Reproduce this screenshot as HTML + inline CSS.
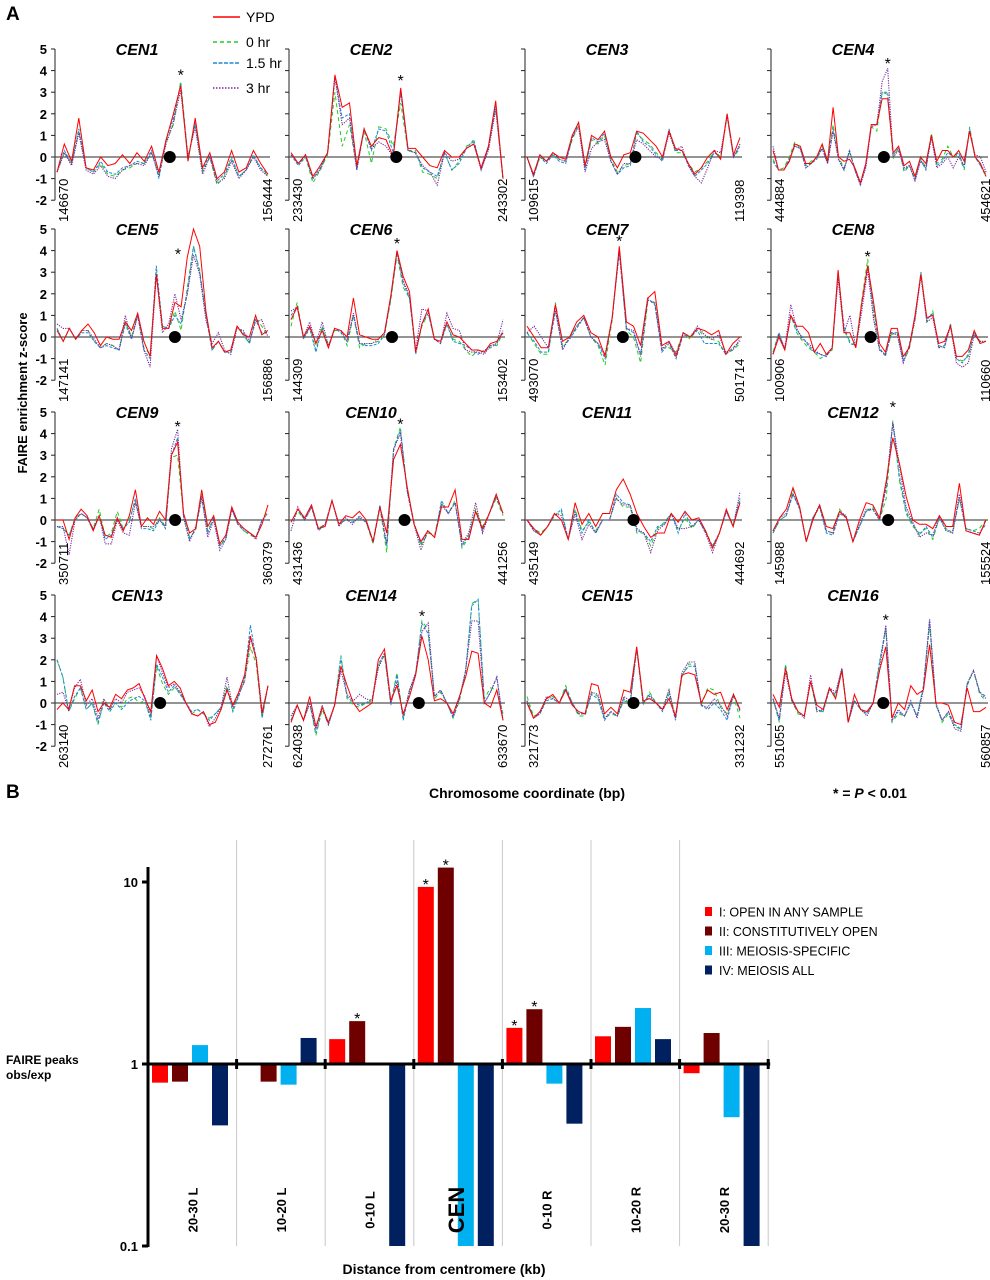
<!DOCTYPE html>
<html><head><meta charset="utf-8">
<style>
html,body{margin:0;padding:0;background:#fff;}
svg{display:block;font-family:"Liberation Sans",Arial,sans-serif;}
</style></head>
<body>
<svg id="fig" width="990" height="1280" viewBox="0 0 990 1280" xmlns="http://www.w3.org/2000/svg">
<text x="6" y="20" font-size="19" font-weight="bold">A</text>
<text x="6" y="798" font-size="19" font-weight="bold">B</text>
<g>
<line x1="213" y1="17" x2="240" y2="17" stroke="#ff0000" stroke-width="1.6"/>
<text x="246" y="22" font-size="14">YPD</text>
<line x1="213" y1="42" x2="240" y2="42" stroke="#22cc22" stroke-width="1.4" stroke-dasharray="4,3"/>
<text x="246" y="47" font-size="14">0 hr</text>
<line x1="213" y1="63" x2="240" y2="63" stroke="#1e88d8" stroke-width="1.4" stroke-dasharray="4,1.5"/>
<text x="246" y="68" font-size="14">1.5 hr</text>
<line x1="213" y1="88" x2="240" y2="88" stroke="#7a2a9a" stroke-width="1.6" stroke-dasharray="1.5,1.5"/>
<text x="246" y="93" font-size="14">3 hr</text>
</g>
<text transform="translate(27,393) rotate(-90)" text-anchor="middle" font-size="13" font-weight="bold">FAIRE enrichment z-score</text>
<text x="527" y="798" text-anchor="middle" font-size="14" font-weight="bold">Chromosome coordinate (bp)</text>
<text x="870" y="798" text-anchor="middle" font-size="14" font-weight="bold">* = <tspan font-style="italic">P</tspan> &lt; 0.01</text>
<g id="panelA"></g>
<g id="panelB"></g>
<text x="6" y="1064" font-size="12" font-weight="bold">FAIRE peaks</text>
<text x="6" y="1079" font-size="12" font-weight="bold">obs/exp</text>
<text x="444" y="1274" text-anchor="middle" font-size="14" font-weight="bold">Distance from centromere (kb)</text>
</svg>
<script>
const NS="http://www.w3.org/2000/svg";
// ---------- Panel A data ----------
const cenNames=["CEN1","CEN2","CEN3","CEN4","CEN5","CEN6","CEN7","CEN8","CEN9","CEN10","CEN11","CEN12","CEN13","CEN14","CEN15","CEN16"];
const coordStart=["146670","233430","109615","444884","147141","144309","493070","100906","350711","431436","435149","145988","263140","624038","321773","551055"];
const coordEnd=["156444","243302","119398","454621","156886","153402","501714","110660","360379","441256","444692","155524","272761","633670","331232","560857"];
const yTicks=[5,4,3,2,1,0,-1,-2];
const cenDotIdx=[15.5,14.4,16.8,20.3,19,16.2,13.5,16.5,19.6,16.6,15.5,17.3,17.6,20.5,16.5,17.6];
const starIdx=[17,15,null,21,19.5,17,13,16,20,16,null,18,null,21,null,18];
const starVal=[3.95,3.7,null,4.5,4.0,4.5,4.6,3.9,4.5,4.6,null,5.4,null,4.2,null,4.0];
const ypd=[
[-0.7,0.6,-0.2,1.8,-0.5,-0.6,0,-0.4,-0.3,0.1,-0.3,0.2,-0.2,0.5,-0.7,0.8,2.0,3.3,-0.2,1.8,-0.5,0.2,-1.0,-0.7,0.3,-0.7,-0.5,0.3,-0.3,-0.8],
[0.2,-0.3,0.1,-0.9,-0.4,0.2,3.8,2.3,2.5,-0.4,1.3,0.5,0.9,0.8,0,3.2,0.4,0.4,0,-0.4,-0.5,0.3,0,0,0.4,0.6,-0.5,0.5,2.6,-1.0],
[0,-0.8,0.1,-0.2,0.2,0,-0.1,1.0,1.6,-0.4,1.0,0.8,1.2,0,-0.5,0.1,0.2,1.2,1.1,0.8,0.5,0,1.2,0.4,0.3,-0.3,-0.8,-0.5,0,0.3,-0.1,2.0,0.1,0.9],
[0.3,-0.6,-0.6,-0.2,0.6,0.5,-0.3,-0.3,0,0.6,-0.2,2.3,0,-0.2,-0.1,-0.5,-1.2,-0.3,1.5,1.5,2.7,2.7,0.2,0.5,-0.4,-0.2,-0.9,0,-0.3,1.0,-0.2,0.3,0.3,0,0.3,-0.2,1.2,0,-0.3,-0.9],
[0.3,-0.2,0.4,-0.1,0.3,0.6,0.2,-0.4,0,-0.1,-0.1,0.7,0.3,1.1,-0.2,-0.9,2.9,0.4,0.4,1.6,1.4,3.7,5.0,4.2,1.2,-0.5,-0.2,-0.7,-0.6,0.5,0.1,0,1.0,0.1,0.3],
[0.8,1.4,0,0.5,-0.3,0.3,-0.5,0.4,0.3,0,1.8,0.1,0,-0.1,-0.1,0.2,1.9,4.0,2.8,2.1,-0.7,0.6,1.3,-0.1,-0.2,0.7,0.1,0,-0.3,-0.6,-0.6,-0.7,-0.3,-0.2,0.2],
[0.5,0,-0.5,-0.5,1.5,-0.2,0,0.7,1.0,0.2,0,-0.9,0.9,4.2,0.7,0.5,-0.4,1.8,2.1,-0.4,-0.2,-0.9,0.2,0,0.4,0.3,0.1,0.3,-0.8,-0.3,0],
[-0.8,0,-0.6,1.0,0.5,0.5,0.2,-0.7,-0.3,-0.8,-0.5,3.1,0.2,0.2,-0.5,1.6,3.3,1.6,-0.3,-0.7,0.4,0.4,-0.9,-0.5,1.0,2.9,0.9,1.0,-0.3,-0.2,0.5,-0.9,-0.9,-0.6,0.3,-0.3,-0.2],
[0,0,-0.9,0.1,0.5,0.2,-0.5,0.2,-0.7,-0.8,0.1,-0.5,0.2,1.4,-0.3,0.1,-0.2,0.4,0,3.0,3.6,0.3,-0.6,-0.4,1.4,-0.3,0.2,-1.1,-0.7,0.6,-0.1,-0.4,-0.6,-0.8,-0.2,0.7],
[-0.1,0.5,0.1,0.7,-0.4,-0.3,0.9,-0.2,0.2,0.1,0.4,0,-1.0,0.6,-0.6,2.8,3.5,1.5,-0.2,-1.0,-0.5,-0.8,0.6,0.6,1.4,-0.9,-0.9,0.4,-0.4,0.3,1.2,0.3],
[0,-0.4,-0.7,-0.3,0.3,0,-0.9,0.8,-0.2,0.3,-0.3,0.3,0.3,1.4,1.9,1.2,0.3,-0.3,-0.8,-0.6,-0.6,0.3,-0.1,0.4,0,0.1,-0.5,-1.3,-0.6,0.5,-0.3,0.8],
[-0.5,0.1,0.5,1.5,0.6,-1.0,0,0.7,-0.3,-0.4,0.4,0.1,-1.0,0,0.8,0.7,0.1,1.8,3.8,2.6,1.1,0,-0.2,-0.2,-0.4,0.2,-0.3,-0.3,1.7,-0.5,-0.6,-0.7,0],
[-0.3,0,-0.3,0.8,0.8,0.1,0.6,-0.4,0,-0.2,0.4,0.2,0.6,0.7,0.9,0.2,-0.4,2.2,1.6,0.8,1.0,0.7,0,-0.5,-0.6,-0.4,-1.0,-0.9,-0.3,0.6,-0.1,0.5,1.3,3.1,2.0,-0.5,0.8],
[-0.9,-0.1,-0.8,0.3,-1.1,-0.2,-0.9,-0.1,1.7,0.8,0,-0.4,-0.2,0,2.0,2.5,0.1,0.8,-0.5,0.3,1.3,3.1,2.0,0.1,0.2,0,-0.5,0.3,1.2,2.4,2.3,0,-0.2,0.6,-0.8],
[0,-0.7,-0.4,0.2,0.4,0,0.6,-0.1,-0.4,-0.5,0.9,0.8,-0.5,-0.2,-0.5,0.6,0.5,2.6,0.1,0.2,0,-0.3,0.2,-0.6,1.3,1.4,1.3,0,0.6,0.4,0.5,-0.3,0.4,-0.3],
[0.4,-0.2,1.6,0.2,-0.4,-0.6,1.0,-0.1,-0.3,0.7,0.2,1.5,-0.9,0.4,-0.3,-0.4,0,1.5,2.6,-0.7,0,-0.3,0.8,0.4,0.6,2.7,0,0,-0.1,-0.9,-1.0,0.7,-0.4,-0.4,-0.2]];
const hr0=[
[-0.7,0.2,-0.3,1.2,-0.5,-0.7,-0.3,-0.8,-0.9,-0.6,-0.5,-0.3,-0.3,0.2,-0.9,0.7,1.5,3.5,0,1.5,-0.7,0,-1.3,-0.9,-0.1,-0.9,-0.6,0,-0.5,-0.9],
[0.1,-0.3,0,-1.2,-0.6,0.1,3.0,0.5,1.5,-0.5,1.2,-0.3,1.4,1.3,0.5,2.5,0.3,0.3,-0.7,-0.8,-1.0,0.2,-0.6,-0.2,0.5,0.7,-0.5,0.4,2.3,-1.0],
[0,-0.9,0,-0.2,0.1,-0.1,-0.2,0.8,1.5,-0.5,0.8,0.6,1.0,-0.1,-0.7,-0.4,-0.3,1.1,0.8,0.6,0.2,-0.1,1.2,0.2,0.2,-0.3,-0.7,-0.5,-0.2,0.3,0,1.9,0,0.4],
[-0.1,-0.6,-0.5,0,0.7,0.4,-0.4,-0.2,0,0.5,-0.2,1.5,0,-0.5,0.2,-0.5,-1.2,-0.3,1.4,1.2,3.0,2.9,-0.1,0.5,-0.7,-0.4,-1.0,0,-0.5,1.1,-0.3,-0.1,0.5,0,0.1,-0.6,1.4,0,-0.4,-0.8],
[0.4,-0.2,0.4,-0.1,0.3,0.3,-0.2,-0.5,-0.3,-0.4,-0.6,0.7,0,1.1,-0.5,-0.8,3.0,0.5,0.4,1.2,0.3,2.3,4.2,3.1,1.0,-0.6,-0.2,-0.7,-0.7,0.5,0.1,-0.3,0.9,0.5,0],
[0.5,1.6,-0.1,0.5,-0.6,0.5,-0.4,0.3,0.3,-0.4,1.0,-0.5,-0.3,-0.3,-0.2,0.1,1.7,3.8,2.3,1.8,-0.7,0.5,1.1,-0.1,-0.2,0.6,-0.1,-0.2,-0.6,-0.9,-0.6,-0.7,-0.4,-0.4,0.2],
[0.2,-0.3,-0.8,-0.8,1.6,-0.4,-0.1,0.5,0.9,0,-0.4,-1.3,0.8,4.1,0.3,0,-1.2,1.6,1.6,-0.5,-0.5,-0.7,0.2,-0.1,0.4,0,-0.1,-0.2,-0.8,-0.6,-0.3],
[-0.7,0.2,-0.6,1.0,0.2,-0.2,-0.5,-0.7,-1.0,-0.8,-0.6,3.0,0.3,-0.2,-0.4,1.7,3.6,1.0,-0.6,-0.8,0.1,0.2,-1.1,-0.6,0.8,3.0,0.7,1.2,-0.5,-0.4,0.6,-1.0,-1.1,-0.9,0.2,-0.2,-0.2],
[-0.3,-0.4,-0.7,0.1,0.3,0.1,-0.4,0.5,-0.8,-0.6,0.4,-0.4,0,0.9,-0.3,-0.3,-0.4,0.1,-0.3,2.9,3.0,0.2,-0.8,-0.5,1.2,-0.5,0.1,-1.2,-0.9,0.5,-0.2,-0.5,-0.7,-0.8,0,0.4],
[-0.1,0.4,0,0.6,-0.4,-0.2,0.9,-0.2,0,-0.1,0.1,-0.1,-1.1,0.6,-1.5,3.3,4.3,1.3,-0.1,-1.2,-0.6,-0.7,0.8,0.3,0.9,-1.3,-0.8,0.5,-0.3,0.3,1.0,0.2],
[0,-0.4,-0.6,-0.3,0.2,0.4,-0.9,0.5,-0.5,-0.1,-0.5,0,0,1.0,0.6,0.6,-0.6,-0.6,-1.2,-0.4,-0.1,0.3,-0.5,0.1,-0.4,0,-0.5,-1.2,-0.6,0.4,-0.2,0.9],
[-0.6,0,0.2,1.4,0.6,-1.0,0.1,0.6,-0.5,-0.6,0.5,0.1,-1.0,-0.3,0.4,0.6,0,1.0,4.6,1.8,0.3,-0.3,-0.6,-0.4,-0.9,0.1,-0.4,-0.6,1.0,-0.4,-0.5,-0.4,0],
[2.0,1.2,-0.4,0.2,0.7,-0.3,0,-1.0,0.1,-0.3,0,-0.2,0.2,0.3,0,0.1,-0.7,1.7,0.9,0.4,0.7,0.5,0,-0.5,-0.3,-0.5,-0.7,-0.5,-0.2,0.8,-0.3,0.4,1.0,2.6,1.8,-0.7,0.8],
[-0.8,-0.1,-0.8,0,-1.5,-0.3,-1.0,-0.1,2.2,0.2,-0.1,-0.2,0,0.1,1.7,2.2,0,1.4,-0.7,0.6,1.3,3.8,3.4,0.2,0.5,0,-0.7,0.1,1.4,4.6,4.8,0.2,0.7,0.6,-0.5],
[0.3,-0.6,-0.5,0.2,0.3,0,0.8,0,-0.6,-0.6,0.5,0.3,-0.7,-0.5,-0.6,0.1,0,2.5,-0.1,0.5,0,-0.3,0.6,-0.7,1.2,1.8,1.8,-0.1,0.7,0.6,-0.2,-0.5,0.3,-0.7],
[0.2,-0.9,1.8,0.1,-0.5,-0.6,1.0,-0.4,-0.4,0.7,0.3,1.6,-0.8,0.1,-0.3,-0.5,0,1.8,3.4,-0.9,-0.5,-0.6,0,-0.6,0.7,3.6,0,-0.9,-0.5,-1.1,-1.2,0.8,1.5,0.4,0.1]];
const hr15=[
[-0.7,0.3,-0.3,1.3,-0.5,-0.7,-0.2,-0.7,-0.8,-0.5,-0.4,-0.2,-0.3,0.3,-1.0,0.8,1.8,3.4,-0.1,1.6,-0.6,0.1,-1.1,-0.8,0,-0.9,-0.6,0.1,-0.5,-0.8],
[0.1,-0.4,0,-1.0,-0.5,0.2,3.7,1.8,2.0,-0.6,1.3,0.3,1.3,1.2,0.2,3.0,0.3,0.2,-0.5,-0.7,-0.9,0.2,-0.6,-0.3,0.4,0.8,-0.6,0.4,2.4,-1.0],
[0,-0.9,0,-0.3,0.1,-0.2,-0.3,0.9,1.6,-0.6,0.9,0.7,1.1,-0.2,-0.8,-0.5,-0.4,1.2,0.7,0.5,0.1,-0.2,1.3,0.3,0.3,-0.4,-0.9,-0.6,-0.3,0.2,0,2.0,0,0.5],
[-0.2,-0.6,-0.6,-0.1,0.5,0.4,-0.5,-0.3,-0.1,0.4,-0.3,1.3,-0.1,-0.6,0.3,-0.6,-1.3,-0.4,1.5,1.5,3.0,3.0,0.1,0.4,-0.6,-0.4,-1.1,-0.1,-0.6,1.0,-0.4,-0.2,0.2,0,0.2,-0.5,1.3,0,-0.4,-0.9],
[0.4,-0.2,0.4,-0.1,0.2,0.2,-0.2,-0.5,-0.4,-0.5,-0.6,0.6,-0.1,1.0,-0.6,-1.0,3.3,0.5,0.4,1.0,0.6,2.0,4.2,3.0,1.0,-0.6,-0.2,-0.7,-0.7,0.5,0.2,-0.3,0.8,0.2,0.2],
[1.0,1.4,-0.1,0.4,-0.7,0.4,-0.5,0.4,0.2,-0.2,1.0,-0.3,-0.4,-0.4,-0.3,0.1,1.8,3.9,2.5,1.8,-0.8,0.6,1.1,-0.1,-0.3,0.6,-0.2,-0.3,-0.4,-0.6,-0.8,-0.6,-0.5,-0.3,0.3],
[0.2,-0.2,-0.7,-0.7,1.2,-0.5,-0.1,0.4,0.9,0,-0.3,-1.0,0.9,3.9,0.4,0.2,-0.8,1.8,1.5,-0.7,-0.3,-1.0,0.1,0,0.3,-0.3,-0.3,-0.3,-0.8,-0.5,-0.2],
[-0.8,0.2,-0.6,1.0,0.3,0,-0.4,-0.7,-0.8,-0.9,-0.5,3.0,0.5,-0.3,-0.4,1.5,3.3,1.3,-0.5,-0.9,0.2,0.2,-1.1,-0.4,0.9,3.0,0.8,1.1,-0.4,-0.5,0.6,-1.0,-1.2,-0.8,0.2,-0.3,-0.2],
[-0.3,-0.4,-0.7,0,0.3,0.1,-0.5,0.2,-0.9,-0.7,0.1,-0.4,-0.1,1.0,-0.4,-0.4,-0.5,0,-0.4,3.0,3.8,0.2,-0.9,-0.4,1.0,-0.6,0.1,-1.2,-0.8,0.5,-0.2,-0.5,-0.6,-0.8,0,0],
[-0.1,0.5,0,0.6,-0.5,-0.2,0.9,-0.2,0,-0.1,0.1,-0.1,-1.0,0.7,-1.2,3.2,4.2,1.3,-0.2,-1.1,-0.5,-0.8,0.9,0.3,0.8,-1.2,-0.7,0.4,-0.5,0.3,1.1,0.3],
[0,-0.5,-0.7,-0.3,0.2,0.5,-0.9,0.4,-0.6,0,-0.6,0,0,1.2,0.8,0.7,-0.5,-0.6,-1.0,-0.3,-0.2,0.3,-0.6,0.3,-0.3,0,-0.6,-1.2,-0.6,0.4,-0.3,1.0],
[-0.6,0,0.2,1.2,0.5,-1.0,0.1,0.6,-0.6,-0.7,0.3,0.1,-1.0,-0.3,0.4,0.5,0,1.5,4.5,2.0,0.4,-0.2,-0.7,-0.3,-0.8,0.1,-0.5,-0.5,1.0,-0.4,-0.5,-0.6,-0.2],
[2.0,1.2,-0.4,0.3,0.7,-0.3,0,-0.9,0,-0.4,0,-0.3,0,0.2,0.3,0.1,-0.8,1.8,1.2,0.5,0.8,0.4,0,-0.4,-0.3,-0.5,-0.8,-0.5,-0.2,0.7,-0.4,0.3,1.2,3.6,2.0,-0.7,0.8],
[-0.8,-0.1,-0.8,0,-1.4,-0.2,-1.0,-0.1,2.1,0.3,0,-0.1,0,0.2,1.8,2.3,-0.1,1.3,-0.8,0.5,1.4,3.7,3.2,0.3,0.6,0,-0.7,0.2,1.5,4.5,4.8,0,0.5,1.2,-0.8],
[0.1,-0.7,-0.5,0.1,0.2,0,0.7,0,-0.5,-0.5,0.4,0.2,-0.8,-0.4,-0.6,0.2,0,2.6,0,0.4,0,-0.4,0.4,-0.8,1.3,1.7,1.7,-0.1,-0.3,0,-0.3,-0.8,0.4,-0.4],
[0.2,-0.8,1.7,0.1,-0.4,-0.6,1.0,-0.3,-0.4,0.6,0.4,1.6,-0.9,0.1,-0.3,-0.5,0,1.9,3.5,-0.8,-0.4,-0.6,0,-0.6,0.8,3.8,-0.1,-0.8,-0.4,-1.0,-1.2,0.9,1.5,0.5,0.3]];
const hr3=[
[-0.7,0.2,-0.4,1.1,-0.6,-0.8,-0.4,-0.9,-1.0,-0.6,-0.4,-0.3,-0.4,0.2,-0.8,0.6,1.6,3.1,0,1.4,-0.8,0,-1.2,-1.0,-0.2,-1.0,-0.6,0,-0.6,-0.9],
[0.1,-0.3,0.1,-1.0,-0.6,0.2,3.7,1.5,1.8,-0.6,1.3,0.4,0.7,0.5,0,3.1,0.3,0.2,-0.4,-0.7,-1.3,0.2,-0.2,-0.1,0.4,0.6,-0.6,0.3,2.2,-1.0],
[0,-0.9,0.1,-0.2,0.2,-0.1,-0.2,0.9,1.4,-0.7,0.4,0.7,0.8,-0.2,-0.8,-0.3,-0.3,0.8,0.6,0.3,0,-0.1,1.1,0.3,0.5,-0.4,-0.9,-1.2,-0.5,0.3,0.2,1.9,0,0.6],
[0.5,-0.6,-0.6,-0.1,0.5,0.4,-0.5,-0.3,0,0.4,-0.3,1.2,-0.1,-0.6,0.3,-0.6,-1.3,-0.5,1.4,1.5,3.5,4.1,0,0.3,-0.5,-0.4,-1.1,-0.2,-0.5,0.9,-0.5,-0.3,0,-0.5,0,-0.4,1.2,0.1,0,-0.7],
[0.6,0.4,0.4,-0.1,0.3,0.3,-0.1,-0.5,-0.3,-0.4,-0.6,1.0,-0.1,1.0,-0.6,-1.4,2.9,0.2,0.6,2.0,0.8,2.0,3.8,2.9,0.8,-0.3,0.2,-0.6,-0.8,0.4,0.3,-0.2,0.7,0.8,0],
[1.2,1.4,0,0.7,-0.3,0.7,-0.4,0.4,0.3,-0.2,1.1,-0.3,-0.3,-0.3,-0.1,0.2,1.9,4.0,2.6,1.9,-0.6,1.3,1.2,-0.1,-0.3,1.1,0.4,0.3,-0.6,-0.7,-0.7,-0.8,-0.4,-0.3,0.8],
[0.2,0.5,0,-0.5,1.3,-0.6,0,0.5,0.9,0,-0.3,-0.8,0.9,4.0,0.4,0.3,-0.9,1.7,1.6,-0.6,-0.2,-0.8,0.2,0,0.5,0.1,-0.1,0.1,-0.7,-0.6,-0.1],
[-0.8,0.1,-0.5,1.5,0.4,-0.1,-0.3,-0.6,-0.8,-0.9,-0.5,2.7,0.2,1.0,-0.5,1.2,3.1,0.8,-0.6,-0.8,0.2,0.1,-1.2,-0.5,0.8,2.8,0.7,0.9,-0.5,-0.4,0.5,-1.2,-1.4,-1.2,0.1,-0.2,-0.2],
[-0.3,-0.3,-1.6,0,0.3,0.1,-0.4,0.2,-1.1,-1.1,0,-0.6,-0.7,0.8,-0.3,-0.3,-0.3,0,-0.3,3.3,4.2,0.1,-1.0,-0.3,1.1,-0.8,0,-1.4,-0.9,0.5,-0.2,-0.4,-0.6,-0.9,0,0.3],
[-0.5,0.6,0,0.6,-0.4,-0.2,0.9,-0.3,0.1,-0.2,0.2,-0.1,-1.0,0.6,-1.1,3.3,4.0,1.3,-0.2,-1.4,-0.5,-0.8,0.7,0.3,0.8,-1.1,-0.6,0.8,-0.6,0.3,1.1,0.3],
[0,-0.5,-0.7,-0.3,0.3,0.2,-0.9,0.3,-0.9,-0.2,-0.6,0,0,1.0,0.7,0.7,-0.4,-0.6,-1.5,-0.5,-0.2,0.3,-0.4,-0.4,-0.3,0,-0.6,-1.5,-0.6,0.4,-0.3,1.3],
[-0.5,0.1,0.3,1.2,0.6,-1.0,0.1,0.7,-0.5,-0.6,0.4,0.2,-1.0,-0.2,0.5,0.5,0,1.6,4.5,2.5,0.6,-0.1,-0.8,-0.6,-0.7,0.2,-0.5,-0.6,1.2,-0.5,-0.6,-0.7,0],
[0.4,0.5,-0.3,0.7,1.1,-0.1,0.2,-0.7,0.2,-0.3,0.2,0,0.5,0.6,0.7,0.3,-0.6,2.2,1.4,0.7,0.9,0.5,0,-0.5,-0.6,-0.4,-1.1,-0.7,-0.2,1.2,-0.2,0.4,1.0,3.0,2.1,-0.4,0.8],
[-0.6,-0.1,-0.8,0,-1.2,-0.1,-1.0,-0.1,1.5,0.4,0.1,0.4,0.2,0.1,1.6,2.3,0,1.0,-0.6,0.6,1.4,3.3,3.7,0.3,0.6,0,-0.6,0.2,1.5,3.8,3.8,0,0.5,1.2,-0.8],
[0.1,-0.7,-0.5,0.3,0.2,0,0.6,0,-0.5,-0.5,0.5,0.4,-0.7,-0.4,-0.6,0.3,0.1,2.5,0,0.3,0,-0.3,0.6,-0.7,1.4,1.9,1.9,-0.1,-0.2,0.2,-0.1,-0.6,0.4,-0.3],
[0.2,-0.7,1.4,0.1,-0.4,-0.7,1.3,-0.4,-0.3,0.7,0.5,1.6,-0.9,0.1,-0.3,-0.6,0,1.5,3.6,-0.8,-0.3,-0.6,0.1,-0.7,0.6,3.9,0,-0.8,-0.4,-1.2,-1.3,0.9,1.5,0.5,0.2]];

// ---------- Panel B data ----------
const bCategories=["20-30 L","10-20  L","0-10 L","CEN","0-10 R","10-20 R","20-30 R"];
const bSeriesNames=["I: OPEN IN ANY SAMPLE","II: CONSTITUTIVELY OPEN","III: MEIOSIS-SPECIFIC","IV: MEIOSIS ALL"];
const bOpenAny=[0.79,1.0,1.37,9.4,1.58,1.42,0.89];
const bConstit=[0.8,0.8,1.72,12.0,2.0,1.6,1.48];
const bMeioSpec=[1.27,0.77,1.0,0.1,0.78,2.03,0.51];
const bMeioAll=[0.46,1.39,0.1,0.1,0.47,1.37,0.1];
const bSig=[[false,false,false,true,true,false,false],[false,false,true,true,true,false,false],[false,false,false,false,false,false,false],[false,false,false,false,false,false,false]];
const bTicks=[10,1,0.1];
const bTickLabels=["10","1","0.1"];

function el(tag,attrs,parent){const e=document.createElementNS(NS,tag);for(const k in attrs)e.setAttribute(k,attrs[k]);(parent||document.getElementById('fig')).appendChild(e);return e;}

// ---------- draw A ----------
const gA=document.getElementById('panelA');
const colX=[55,289,525,771], colW=[215,216,217,217];
const rowZero=[157,337,520,703], unit=21.6;
const seriesStyles=[
 {data:hr0,name:"0hr",stroke:"#22cc22",dash:"4,3",w:1},
 {data:hr15,name:"1-5hr",stroke:"#1e88d8",dash:"3,1.5",w:1},
 {data:hr3,name:"3hr",stroke:"#7a2a9a",dash:"1.2,1.2",w:1.1},
 {data:ypd,name:"ypd",stroke:"#ff0000",dash:"",w:1}];
for(let p=0;p<16;p++){
  const c=p%4,r=Math.floor(p/4);
  const x0=colX[c], w=colW[c], z=rowZero[r];
  const yS=v=>z-v*unit;
  const n=ypd[p].length;
  const xS=i=>x0+2+i*(w-4)/(n-1);
  const g=el('g',{},gA);
  
  
  const ax=el('line',{x1:x0,y1:yS(5),x2:x0,y2:yS(-2),stroke:'#222','stroke-width':1},g);
  
  
  yTicks.forEach(t=>{
    el('line',{x1:x0-4,y1:yS(t),x2:x0,y2:yS(t),stroke:'#222','stroke-width':1},g);
    if(c===0){
      const tl=el('text',{x:x0-8,y:yS(t)+5,'text-anchor':'end','font-size':13,'font-weight':'bold'},g);
      tl.textContent=String(t);
      
      
    }
  });
  const zl=el('line',{x1:x0,y1:z,x2:x0+w,y2:z,stroke:'#555','stroke-width':1.2},g);
  
  
  seriesStyles.forEach(s=>{
    const d=s.data[p];
    const pts=d.map((v,i)=>xS(i).toFixed(1)+','+yS(v).toFixed(1)).join(' ');
    const pl=el('polyline',{points:pts,fill:'none',stroke:s.stroke,'stroke-width':s.w},g);
    if(s.dash)pl.setAttribute('stroke-dasharray',s.dash);
    
    
  });
  const dot=el('circle',{cx:xS(cenDotIdx[p]),cy:z,r:6,fill:'#000'},g);
  
  
  if(starIdx[p]!==null){
    const st=el('text',{x:xS(starIdx[p]),y:yS(starVal[p])+9,'text-anchor':'middle','font-size':16},g);
    st.textContent='*';
    
    
  }
  const tt=el('text',{x:x0+82,y:yS(5)+6,'text-anchor':'middle','font-size':16,'font-weight':'bold','font-style':'italic'},g);
  tt.textContent=cenNames[p];
  
  
  const ls=el('text',{transform:'translate('+(x0+13)+','+(z+65)+') rotate(-90)','font-size':13},g);
  ls.textContent=coordStart[p];
  
  
  const le=el('text',{transform:'translate('+(x0+w+2)+','+(z+65)+') rotate(-90)','font-size':13},g);
  le.textContent=coordEnd[p];
  
  
}

// ---------- draw B ----------
const gB=document.getElementById('panelB');
const bAxisX=148, bOneY=1064, bDecade=182, bGroupW=88.6;
const yB=v=>bOneY-Math.log10(v)*bDecade;
const bColors=["#ff0000","#6e0000","#00b0f0","#002060"];
const bSeries=[bOpenAny,bConstit,bMeioSpec,bMeioAll];
bCategories.forEach((cat,gi)=>{
  const gx=bAxisX+gi*bGroupW;
  if(gi>0){
    const sep=el('line',{x1:gx,y1:840,x2:gx,y2:1246,stroke:'#c8c8c8','stroke-width':1},gB);
    
    
  }
  bSeries.forEach((s,si)=>{
    const v=s[gi];
    const x=gx+4+si*20;
    const y1=Math.min(yB(v),bOneY), y2=Math.max(yB(v),bOneY);
    if(y2-y1>0.5){
      const b=el('rect',{x:x,y:y1,width:16,height:y2-y1,fill:bColors[si]},gB);
      
      
    }
    if(bSig[si][gi]){
      const st=el('text',{x:x+8,y:yB(v)+3,'text-anchor':'middle','font-size':16},gB);
      st.textContent='*';
      
      
    }
  });
  const big=cat==="CEN";
  const cl=el('text',{transform:'translate('+(gx+bGroupW/2+(big?6:5))+',1210) rotate(-90)','text-anchor':'middle','font-size':big?22:13,'font-weight':'bold'},gB);
  cl.textContent=cat;
  
  
});
const lastSep=el('line',{x1:bAxisX+7*bGroupW,y1:1040,x2:bAxisX+7*bGroupW,y2:1246,stroke:'#c8c8c8','stroke-width':1},gB);


const bAx=el('line',{x1:bAxisX,y1:867,x2:bAxisX,y2:1247,stroke:'#000','stroke-width':3},gB);


const bBase=el('line',{x1:bAxisX,y1:bOneY,x2:bAxisX+7*bGroupW+2,y2:bOneY,stroke:'#000','stroke-width':3},gB);


for(let i=1;i<=7;i++){el('line',{x1:bAxisX+i*bGroupW,y1:bOneY-5,x2:bAxisX+i*bGroupW,y2:bOneY+5,stroke:'#000','stroke-width':3},gB);}
bTicks.forEach((t,i)=>{
  el('line',{x1:bAxisX-6,y1:yB(t),x2:bAxisX,y2:yB(t),stroke:'#000','stroke-width':3},gB);
  const tl=el('text',{x:bAxisX-10,y:yB(t)+5,'text-anchor':'end','font-size':13,'font-weight':'bold'},gB);
  tl.textContent=bTickLabels[i];
  
  
});
bSeriesNames.forEach((nm,i)=>{
  const y=912+i*19.5;
  const sq=el('rect',{x:705,y:y-5,width:7,height:9,fill:bColors[i]},gB);
  
  
  const t=el('text',{x:719,y:y+4.5,'font-size':12.5},gB);
  t.textContent=nm;
  
  
});
</script>
</body></html>
